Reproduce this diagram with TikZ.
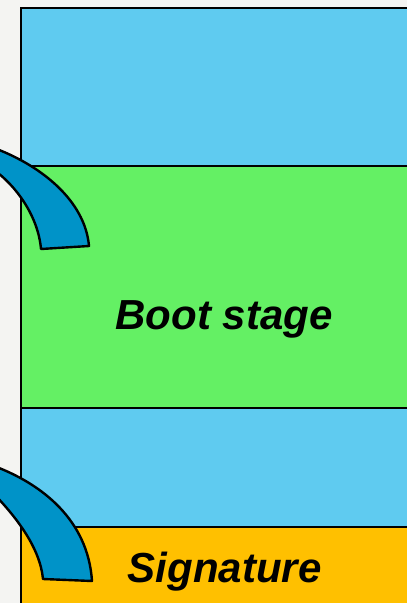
\documentclass[tikz,border=0pt]{standalone}
\usepackage{fontspec}
\setmainfont{Liberation Sans}
\definecolor{bgc}{HTML}{F4F4F2}
\definecolor{lblue}{HTML}{5FCBF0}
\definecolor{lgreen}{HTML}{64F064}
\definecolor{lyellow}{HTML}{FFC000}
\definecolor{arrblue}{HTML}{0093C8}
\tikzset{
  band/.style={draw=black, line width=2pt},
  curvearrow/.style={fill=arrblue, draw=black, line width=2.4pt, line join=round},
  label/.style={anchor=base, inner sep=0pt, font=\fontsize{42}{50}\selectfont\bfseries\itshape}
}
\begin{document}
\begin{tikzpicture}[x=1pt,y=-1pt]
\useasboundingbox (0,0) rectangle (407,603);
\fill[bgc] (0,0) rectangle (407,603);
\begin{scope}
\clip (0,0) rectangle (407,603);
\filldraw[band, fill=lblue] (21,8) rectangle (412,166);
\filldraw[band, fill=lgreen] (21,166) rectangle (412,408);
\filldraw[band, fill=lblue] (21,408) rectangle (412,527);
\filldraw[band, fill=lyellow] (21,527) rectangle (412,612);
\draw[curvearrow] (-6,148) .. controls (40,165) and (85,200) .. (89,246)
  -- (41,249) .. controls (38,215) and (15,185) .. (-6,170) -- cycle;
\draw[curvearrow] (-6,466) .. controls (42,484) and (88,520) .. (92,581)
  -- (43,579) .. controls (40,548) and (17,518) .. (-6,494) -- cycle;
\end{scope}
\node[label] (boot) at (224,329) {Boot stage};
\node[label] (sig) at (224.5,582) {Signature};
\end{tikzpicture}
\end{document}
